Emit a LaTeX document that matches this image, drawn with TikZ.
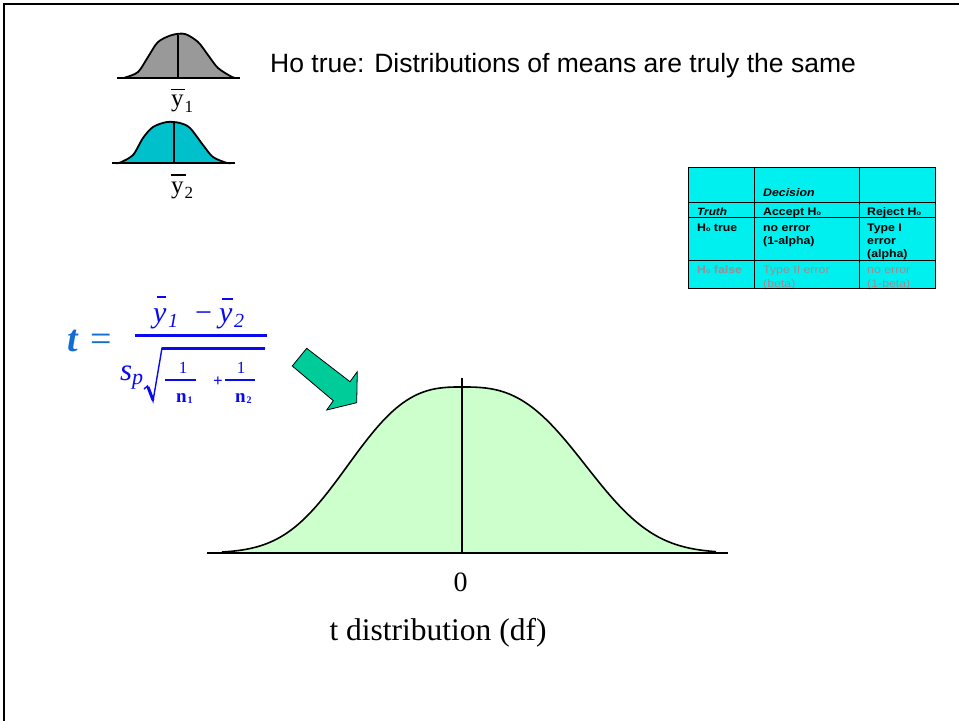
\documentclass[tikz,border=0pt]{standalone}
\usepackage{fontspec}
\setmainfont{Liberation Serif}
\newfontfamily\arialf{Liberation Sans}
\newfontfamily\tabf[FakeStretch=1.12]{Liberation Sans}
\definecolor{grayfill}{RGB}{153,153,153}
\definecolor{tealfill}{RGB}{0,192,204}
\definecolor{greenfill}{RGB}{204,255,204}
\definecolor{arrowfill}{RGB}{0,204,153}
\definecolor{tabcyan}{RGB}{0,240,240}
\definecolor{tabgray}{RGB}{160,140,146}
\definecolor{fblue}{RGB}{10,10,240}
\definecolor{tblue}{RGB}{20,110,210}
\newcommand\hzero{H{\fontsize{6.5}{6}\selectfont o}}
\tikzset{
  curveline/.style={line width=1.8pt, line join=round},
  tabtxt/.style={anchor=base west, inner sep=0pt, font=\tabf\bfseries\fontsize{11}{13}\selectfont},
  tabgr/.style={tabtxt, text=tabgray},
  tabgrreg/.style={tabgr, font=\tabf\fontsize{11}{13}\selectfont},
  fml/.style={inner sep=0pt, text=fblue},
}
\begin{document}
\begin{tikzpicture}[x=1pt,y=-1pt]
\useasboundingbox (0,0) rectangle (959,721);
\fill[white] (0,0) rectangle (959,721);
% frame
\draw[line width=2pt] (3.5,721) -- (3.5,4.3) -- (959,4.3);

% gray small distribution
\fill[grayfill] plot[smooth] coordinates {(122,78)(125,77.6)(138,72)(148,57)(158,42)(172,35)(185,34)(198,42)(208,55)(218,68)(232,77)(236,78)} -- cycle;
\draw[curveline] plot[smooth] coordinates {(122,78)(125,77.6)(138,72)(148,57)(158,42)(172,35)(185,34)(198,42)(208,55)(218,68)(232,77)(236,78)};
\draw[line width=2.2pt] (117,78) -- (240,78);
\draw[line width=1.2pt] (178,35) -- (178,78);
\node[anchor=base west, inner sep=0pt, font=\fontsize{25}{25}\selectfont] (y1) at (171,106) {y};
\node[anchor=base west, inner sep=0pt, font=\fontsize{17}{17}\selectfont] (y1s) at (184.5,112) {1};
\draw[line width=1.2pt] (171,89.5) -- (185,89.5);

% teal small distribution
\fill[tealfill] plot[smooth] coordinates {(116,163)(120,162.6)(133,155)(143,138)(153,127)(167,122)(180,123)(190,128)(203,145)(213,157)(227,163)(231,163)} -- cycle;
\draw[curveline] plot[smooth] coordinates {(116,163)(120,162.6)(133,155)(143,138)(153,127)(167,122)(180,123)(190,128)(203,145)(213,157)(227,163)(231,163)};
\draw[line width=2.2pt] (112,163) -- (235,163);
\draw[line width=1.2pt] (174,123) -- (174,163);
\node[anchor=base west, inner sep=0pt, font=\fontsize{25}{25}\selectfont] (y2) at (171,193) {y};
\node[anchor=base west, inner sep=0pt, font=\fontsize{17}{17}\selectfont] (y2s) at (184.5,198) {2};
\draw[line width=1.2pt] (171,175) -- (186,175);

% heading
\node[anchor=base west, inner sep=0pt, font=\arialf\fontsize{26.5}{26.5}\selectfont] (head) at (270,72) {Ho true: Distributions of means are truly the same};

% table
\fill[tabcyan] (688,167) rectangle (935,288);
\node[tabtxt, font=\tabf\bfseries\itshape\fontsize{11}{13}\selectfont] (dec) at (763,196) {Decision};
\node[tabtxt, font=\tabf\bfseries\itshape\fontsize{10.5}{13}\selectfont] (truth) at (697,215) {Truth};
\node[tabtxt] (acc) at (763,215) {Accept \hzero};
\node[tabtxt] (rej) at (867,215) {Reject \hzero};
\node[tabtxt] (htrue) at (697,231) {\hzero{} true};
\node[tabtxt] (noerr) at (763,231) {no error};
\node[tabtxt] (alpha1) at (763,244) {(1-alpha)};
\node[tabtxt] (type1) at (867,231) {Type I};
\node[tabtxt] (err1) at (867,244) {error};
\node[tabtxt] (alpha) at (867,257.5) {(alpha)};
\node[tabgr] (hfalse) at (697,273) {\hzero{} false};
\node[tabgrreg] (type2) at (763,273) {Type II error};
\node[tabgrreg] (beta) at (763,287) {(beta)};
\node[tabgrreg] (noerr2) at (867,273) {no error};
\node[tabgrreg] (beta1) at (867,287) {(1-beta)};
\draw[line width=1pt] (688,167) rectangle (935,288);
\foreach \yy in {202,217,260} \draw[line width=1pt] (688,\yy) -- (935,\yy);
\foreach \xx in {754,859} \draw[line width=1pt] (\xx,167) -- (\xx,288);

% formula
\node[anchor=base west, inner sep=0pt, text=tblue, font=\fontsize{38}{38}\selectfont\bfseries\itshape] (tt) at (67,351) {t};
\node[anchor=base west, inner sep=0pt, text=tblue, font=\fontsize{38}{38}\selectfont] (eq) at (90,351) {=};
\node[fml, anchor=base west, font=\fontsize{30}{30}\selectfont\itshape] (ny1) at (153,322) {y};
\node[fml, anchor=base west, font=\fontsize{20}{20}\selectfont\itshape] (ny1s) at (168,327) {1};
\node[fml, anchor=base west, font=\fontsize{30}{30}\selectfont] (minus) at (195,322) {−};
\node[fml, anchor=base west, font=\fontsize{30}{30}\selectfont\itshape] (ny2) at (219,322) {y};
\node[fml, anchor=base west, font=\fontsize{20}{20}\selectfont\itshape] (ny2s) at (234,327) {2};
\draw[fblue, line width=1.5pt] (157,297) -- (166,297);
\draw[fblue, line width=1.5pt] (222,299) -- (233,299);
\draw[fblue, line width=3pt] (135,335) -- (267,335);
\node[fml, anchor=base west, font=\fontsize{31}{31}\selectfont\itshape] (ss) at (120,380) {s};
\node[fml, anchor=base west, font=\fontsize{22}{22}\selectfont\itshape] (pp) at (132,384) {p};
\draw[fblue, line width=1.4pt, line join=miter] (144,389) -- (147.5,386) -- (153,401) -- (162,348) -- (265,348);
\draw[fblue, line width=3pt] (148,387) -- (153,400);
\draw[fblue, line width=3pt] (162,348) -- (265,348);
\node[fml, anchor=base, font=\fontsize{17}{17}\selectfont] (one1) at (183,373) {1};
\draw[fblue, line width=2.5pt] (165,380) -- (196,380);
\node[fml, anchor=base west, font=\fontsize{19}{19}\selectfont\bfseries] (n1) at (176,402) {n};
\node[fml, anchor=base west, font=\fontsize{10}{10}\selectfont\bfseries] (n1s) at (187.5,403.5) {1};
\node[fml, font=\fontsize{17}{17}\selectfont\bfseries] (plus) at (218,382) {+};
\node[fml, anchor=base, font=\fontsize{17}{17}\selectfont] (one2) at (241,373) {1};
\draw[fblue, line width=2.5pt] (225,380) -- (255,380);
\node[fml, anchor=base west, font=\fontsize{19}{19}\selectfont\bfseries] (n2) at (235,402) {n};
\node[fml, anchor=base west, font=\fontsize{10}{10}\selectfont\bfseries] (n2s) at (246.5,403.5) {2};

% green block arrow
\draw[fill=arrowfill, line width=0.8pt, line join=miter] (292.3,366) -- (306.7,348.3) -- (350,381.7) -- (357.3,371.7) -- (356.7,402.7) -- (326.7,410) -- (333.3,400.7) -- cycle;

% big t distribution
\fill[greenfill] plot[domain=222:462, samples=70] (\x, {553-166*exp(-((462-\x)/134)^2.8)})
  -- plot[domain=462:716, samples=70] (\x, {553-166*exp(-((\x-462)/145)^2.8)}) -- cycle;
\draw[line width=1.6pt, line join=round] plot[domain=222:462, samples=70] (\x, {553-166*exp(-((462-\x)/134)^2.8)})
  -- plot[domain=462:716, samples=70] (\x, {553-166*exp(-((\x-462)/145)^2.8)});
\draw[line width=2pt] (207,553) -- (728,553);
\draw[line width=1.6pt] (462,378) -- (462,553);
\node[anchor=base, inner sep=0pt, font=\fontsize{28}{28}\selectfont] (zero) at (460.5,591) {0};
\node[anchor=base, inner sep=0pt, font=\fontsize{31.5}{31.5}\selectfont] (tdist) at (438,640) {t distribution (df)};
\end{tikzpicture}
\end{document}
